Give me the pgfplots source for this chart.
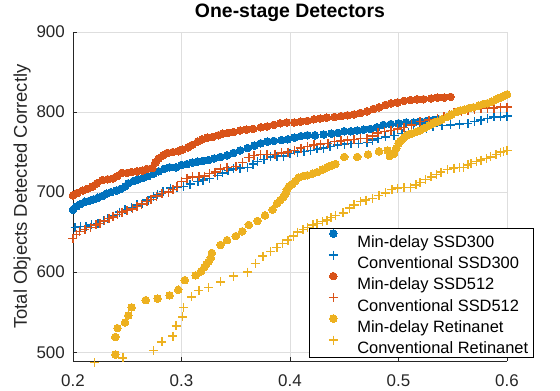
\documentclass[border=0pt]{standalone}
\usepackage{fontspec}
\setmainfont{Liberation Sans}
\usepackage{pgfplots}
\pgfplotsset{compat=1.18}

\definecolor{mblue}{RGB}{0,114,189}
\definecolor{morange}{RGB}{217,83,25}
\definecolor{myellow}{RGB}{237,177,32}

\pgfplotsset{
  dotmk/.style={only marks, mark=*, mark size=3.8bp, color=#1,
    mark options={draw=#1, fill=#1, line width=0pt},
    legend image code/.code={\path[draw=none,fill=none] (0bp,0bp) -- (38bp,0bp);
      \draw[mark repeat=2,mark phase=2,##1] plot coordinates {(0bp,6bp) (19bp,6bp) (38bp,6bp)};}},
  plusmk/.style={only marks, mark=+, mark size=4.5bp, color=#1,
    mark options={draw=#1, line width=1.5bp},
    legend image code/.code={\path[draw=none,fill=none] (0bp,0bp) -- (38bp,0bp);
      \draw[mark repeat=2,mark phase=2,##1] plot coordinates {(0bp,6bp) (19bp,6bp) (38bp,6bp)};}},
}

\begin{document}
\begin{tikzpicture}
\begin{axis}[
  scale only axis,
  width=434bp, height=329bp,
  xmin=0.2, xmax=0.6, ymin=489, ymax=900,
  xtick={0.2,0.3,0.4,0.5,0.6},
  xticklabels={0.2,0.3,0.4,0.5,0.6},
  ytick={500,600,700,800,900},
  /pgf/number format/assume math mode=true,
  axis x line*=bottom, axis y line*=left,
  axis line style={-, line width=0.8bp, draw=black!85},
  tick align=inside, major tick length=4bp,
  tick style={black!85, line width=0.8bp},
  grid=major, major grid style={black!13, line width=0.6bp},
  ticklabel style={font=\fontsize{17}{20}\selectfont, text=black!85},
  yticklabel style={inner sep=0pt, anchor=east, xshift=-8bp},
  xticklabel style={inner sep=0pt, anchor=north, yshift=-13bp},
  title={One-stage Detectors},
  title style={at={(0.5,1)}, anchor=base, yshift=9bp,
    font=\bfseries\fontsize{19.5}{22}\selectfont},
  ylabel={Total Objects Detected Correctly},
  every axis y label/.style={at={(axis description cs:-0.106,0.5)},
    rotate=90, anchor=base, font=\fontsize{18.5}{21}\selectfont, text=black!85},
  clip=false,
  legend cell align=left,
  legend style={at={(axis description cs:0.5438,0.0091)}, anchor=south west,
    draw=black, line width=0.6bp, fill=white,
    inner xsep=5bp, inner ysep=2bp, row sep=1.6bp, column sep=5bp,
    font=\fontsize{16.5}{18}\selectfont,
    nodes={inner sep=0pt, text height=17bp, text depth=2bp}},
]
% Min-delay SSD300
\addplot[dotmk=mblue] coordinates {
(0.200,678) (0.203,682) (0.207,685) (0.211,688) (0.215,689) (0.219,691) (0.223,693)
(0.227,695) (0.231,698) (0.235,700) (0.240,702) (0.244,704) (0.248,707) (0.251,711)
(0.256,714) (0.260,716) (0.265,718) (0.269,720) (0.274,723) (0.279,726) (0.284,729)
(0.289,731) (0.295,731) (0.300,734) (0.305,735) (0.310,737) (0.315,738) (0.320,739)
(0.325,740) (0.330,742) (0.336,744) (0.342,746) (0.348,749) (0.354,752) (0.361,755)
(0.367,758) (0.373,761) (0.379,763) (0.385,764) (0.392,765) (0.398,766) (0.404,768)
(0.410,770) (0.416,771) (0.423,771) (0.431,772) (0.438,773) (0.444,774) (0.450,776)
(0.456,776) (0.462,777) (0.468,778) (0.474,779) (0.480,781) (0.486,784) (0.493,785)
(0.500,786) (0.507,787) (0.514,787) (0.520,788) (0.526,789) (0.532,790) (0.537,791)
};
\addlegendentry{Min-delay SSD300}
% Conventional SSD300
\addplot[plusmk=mblue] coordinates {
(0.202,656) (0.207,657) (0.212,657) (0.217,659) (0.223,661) (0.228,664) (0.232,667)
(0.237,670) (0.243,675) (0.248,678) (0.254,681) (0.259,684) (0.264,686) (0.269,690)
(0.274,694) (0.278,697) (0.283,701) (0.290,705) (0.296,706) (0.302,707) (0.308,710)
(0.315,713) (0.320,715) (0.326,717) (0.333,721) (0.338,724) (0.343,727) (0.348,729)
(0.354,730) (0.361,731) (0.366,735) (0.370,738) (0.376,741) (0.382,744) (0.388,745)
(0.394,745) (0.400,748) (0.407,750) (0.413,751) (0.419,752) (0.425,754) (0.431,755)
(0.437,757) (0.444,759) (0.450,760) (0.456,761) (0.463,761) (0.471,762) (0.476,765)
(0.481,767) (0.488,769) (0.496,771) (0.503,773) (0.509,775) (0.514,777) (0.520,779)
(0.526,780) (0.532,782) (0.540,783) (0.548,784) (0.556,785) (0.564,786) (0.570,788)
(0.576,790) (0.582,792) (0.588,794) (0.594,794) (0.600,795)
};
\addlegendentry{Conventional SSD300}
% Min-delay SSD512
\addplot[dotmk=morange] coordinates {
(0.200,696) (0.204,699) (0.209,702) (0.213,704) (0.218,707) (0.222,711) (0.227,715)
(0.232,716) (0.237,717) (0.241,720) (0.245,724) (0.250,724) (0.254,725) (0.259,726)
(0.264,727) (0.268,729) (0.273,730) (0.276,737) (0.279,742) (0.283,746) (0.287,749)
(0.292,750) (0.297,751) (0.301,753) (0.306,756) (0.310,759) (0.315,763) (0.319,766)
(0.324,768) (0.329,769) (0.334,771) (0.338,773) (0.343,774) (0.348,775) (0.354,777)
(0.360,778) (0.366,779) (0.373,781) (0.379,782) (0.385,784) (0.391,786) (0.397,787)
(0.404,787) (0.410,788) (0.416,789) (0.422,791) (0.428,792) (0.434,793) (0.441,794)
(0.447,795) (0.453,796) (0.459,797) (0.465,799) (0.471,801) (0.477,804) (0.482,806)
(0.488,809) (0.493,811) (0.499,812) (0.505,814) (0.511,815) (0.517,816) (0.523,816)
(0.530,817) (0.536,818) (0.542,818) (0.548,819)
};
\addlegendentry{Min-delay SSD512}
% Conventional SSD512
\addplot[plusmk=morange] coordinates {
(0.200,642) (0.203,647) (0.206,651) (0.211,653) (0.216,656) (0.221,659) (0.225,661)
(0.229,664) (0.233,667) (0.237,669) (0.241,672) (0.245,675) (0.250,677) (0.255,679)
(0.259,682) (0.263,685) (0.268,688) (0.272,691) (0.277,695) (0.282,698) (0.288,700)
(0.292,703) (0.296,707) (0.300,713) (0.305,717) (0.310,719) (0.316,719) (0.321,720)
(0.326,723) (0.331,725) (0.336,729) (0.342,731) (0.350,732) (0.356,737) (0.362,743)
(0.367,746) (0.373,747) (0.379,747) (0.386,747) (0.392,749) (0.398,750) (0.404,752)
(0.410,755) (0.416,757) (0.422,759) (0.428,760) (0.435,761) (0.441,763) (0.447,764)
(0.453,765) (0.459,766) (0.465,767) (0.471,767) (0.476,770) (0.481,774) (0.487,776)
(0.493,777) (0.499,779) (0.505,781) (0.512,784) (0.520,788) (0.528,790) (0.536,792)
(0.542,794) (0.547,797) (0.551,800) (0.558,801) (0.564,802) (0.570,803) (0.576,805)
(0.582,805) (0.588,805) (0.594,806) (0.600,806)
};
\addlegendentry{Conventional SSD512}
% Min-delay Retinanet
\addplot[dotmk=myellow] coordinates {
(0.239,497) (0.239,519) (0.241,530) (0.248,537) (0.251,546) (0.254,556) (0.267,565)
(0.278,567) (0.289,571) (0.297,578) (0.303,590) (0.313,596) (0.318,601) (0.321,606)
(0.323,610) (0.325,613) (0.327,618) (0.328,624) (0.336,634) (0.342,640) (0.350,645)
(0.356,651) (0.362,659) (0.370,664) (0.377,671) (0.384,678) (0.388,686) (0.391,690)
(0.394,694) (0.396,698) (0.397,703) (0.399,707) (0.402,710) (0.405,714) (0.408,718)
(0.412,720) (0.416,721) (0.421,723) (0.425,725) (0.430,728) (0.434,731) (0.438,733)
(0.442,735) (0.450,744) (0.462,744) (0.472,747) (0.482,751) (0.490,752) (0.492,745)
(0.496,748) (0.498,755) (0.500,761) (0.502,764) (0.505,768) (0.508,771) (0.512,773)
(0.516,775) (0.520,777) (0.524,780) (0.528,783) (0.532,786) (0.536,788) (0.540,791)
(0.545,794) (0.549,797) (0.553,800) (0.557,802) (0.561,803) (0.565,805) (0.569,806)
(0.574,808) (0.578,810) (0.582,811) (0.586,813) (0.590,816) (0.594,818) (0.597,820)
(0.600,822)
};
\addlegendentry{Min-delay Retinanet}
% Conventional Retinanet
\addplot[plusmk=myellow] coordinates {
(0.220,487) (0.246,493) (0.274,502) (0.282,513) (0.292,520) (0.295,533) (0.301,544)
(0.302,556) (0.309,569) (0.316,577) (0.325,581) (0.336,588) (0.348,595) (0.361,600)
(0.368,611) (0.375,620) (0.382,626) (0.388,631) (0.393,636) (0.398,640) (0.403,645)
(0.407,650) (0.412,653) (0.416,656) (0.421,659) (0.425,661) (0.430,663) (0.434,665)
(0.438,668) (0.442,671) (0.449,674) (0.455,680) (0.459,684) (0.465,688) (0.470,690)
(0.476,692) (0.482,696) (0.488,699) (0.494,703) (0.499,705) (0.505,706) (0.511,706)
(0.516,709) (0.520,712) (0.525,716) (0.530,719) (0.535,722) (0.539,725) (0.545,728)
(0.551,730) (0.556,731) (0.560,731) (0.564,734) (0.567,736) (0.572,738) (0.576,740)
(0.581,742) (0.585,744) (0.590,747) (0.594,750) (0.597,751) (0.600,752)
};
\addlegendentry{Conventional Retinanet}
\end{axis}
\pgfresetboundingbox
\useasboundingbox (-73bp,-30bp) rectangle (487bp,361bp);
\end{tikzpicture}
\end{document}
